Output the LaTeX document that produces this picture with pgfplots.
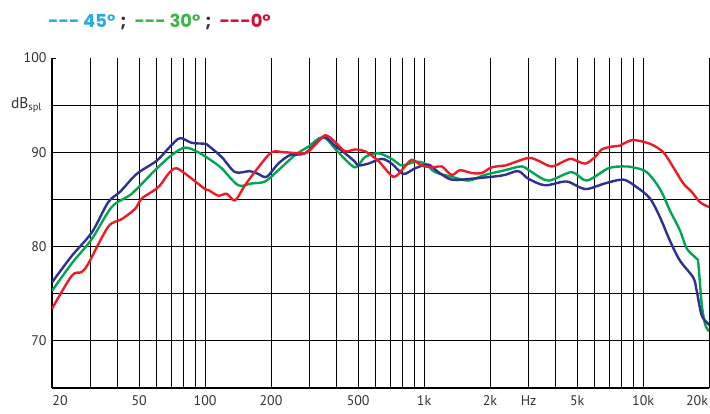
\documentclass[border=0pt]{standalone}
\usepackage{pgfplots}
\pgfplotsset{compat=1.18}
\usepackage{fontspec}
\setmainfont{PT Sans}
\newfontfamily\legfont{Poppins}
\definecolor{c45}{HTML}{2E3192}
\definecolor{c30}{HTML}{00A651}
\definecolor{c0}{HTML}{ED1C24}
\definecolor{l45}{HTML}{29ABE2}
\definecolor{l30}{HTML}{3DB549}
\definecolor{l0}{HTML}{D0103A}
\definecolor{semi}{HTML}{333333}
\begin{document}
\begin{tikzpicture}
\begin{axis}[
 name=main,
 scale only axis, width=657bp, height=330bp,
 xmode=log, xmin=20, xmax=20000, ymin=65, ymax=100,
 axis x line*=bottom, axis y line*=left,
 axis line style={line width=2bp, black, -},
 xtick={20,50,100,200,500,1000,2000,3000,5000,10000,20000},
 xticklabels={\hspace*{16bp}20,50,100,200,500,1k,2k,Hz,5k,10k,20k\hspace*{24bp}},
 minor xtick={30,40,60,70,80,90,300,400,600,700,800,900,4000,6000,7000,8000,9000},
 ytick={65,70,75,80,85,90,95},
 yticklabels={,70,,80,,90,{{\fontsize{15.5}{16}\selectfont dB}{\fontsize{10.5}{10}\selectfont\raisebox{-1.5bp}{spl}}\hspace*{5bp}}},
 extra y ticks={100}, extra y tick labels={100}, extra y tick style={grid=none},
 grid=both, grid style={line width=1bp, black},
 minor grid style={line width=1bp, black},
 tick align=inside, major tick length=4bp, minor tick length=0pt,
 tick style={line width=1bp, black},
 /pgf/number format/assume math mode=true,
 ticklabel style={font=\fontsize{14}{15}\selectfont, text=black!80},
 xticklabel style={yshift=-4bp},
 yticklabel style={xshift=-2bp},
]
\addplot[c30, line width=2.4bp, smooth, tension=0.5] table {
20 75.3
24.6 78.2
30.4 80.8
37.5 84.2
46.2 85.6
59.1 88.1
70.4 89.7
81.0 90.5
93.1 90.0
107.2 89.1
119.1 88.3
141.8 86.5
163.2 86.7
187.8 86.9
216.0 88.1
257.5 89.7
296.1 90.6
346.6 91.6
405.8 90.0
483.7 88.4
537.4 89.5
618.0 89.9
711.7 89.3
790.8 88.6
909.3 89.0
1009.8 88.8
1122 87.9
1337 87.4
1592 87.0
1898 87.6
2342 88.1
2791 88.5
3101 87.9
3692 87.0
4722 87.9
5531 87.0
6938 88.3
8124 88.5
9022 88.4
10390 87.9
11950 86.1
13272 83.8
14746 81.7
15820 79.8
17574 78.7
17872 78.2
18526 73.9
19180 71.8
19854 71.1
20000 71.0
};
\addplot[c45, line width=2.4bp, smooth, tension=0.5] table {
20 76.2
24.6 79.0
30.4 81.5
36.1 84.7
40.9 85.8
48.7 87.7
60.1 89.1
69.2 90.6
76.8 91.5
86.9 91.0
99.9 90.9
103.5 90.7
119.1 89.5
137.0 87.9
160.3 88.0
175.0 87.7
191.2 87.4
216.0 88.8
244.3 89.7
286.0 89.9
346.6 91.6
392.0 90.7
435 89.9
483.7 89.0
500.9 88.6
556.4 88.8
640.7 89.3
711.7 88.8
803.8 87.7
909.3 88.3
1045.5 88.7
1161 87.9
1337 87.1
1650 87.2
2036 87.4
2342 87.6
2693 88.0
2992 87.2
3566 86.5
4478 86.9
5433 86.1
6702 86.7
8124 87.1
9352 86.3
10756 85.1
11950 83.1
13272 80.6
14746 78.5
16958 76.7
17574 75.3
18526 72.7
19854 71.8
20000 71.7
};
\addplot[c0, line width=2.4bp, smooth, tension=0.5] table {
20 73.4
24.6 76.9
27.3 77.3
29.3 78.2
36.1 82.1
41.6 82.9
47.9 84.0
51.4 85.1
61.2 86.3
67.9 87.7
74.2 88.3
86.9 87.2
99.9 86.1
103.5 86.0
114.9 85.4
125.6 85.6
137.0 84.9
152.1 86.5
175.0 88.4
201.5 90.0
231.7 90.0
286.0 89.9
312.2 90.6
352.9 91.8
392.0 91.1
435.4 90.1
483.7 90.3
537.4 90.1
618.0 89.1
723.7 87.4
803.8 88.3
878.2 89.2
975.4 88.6
1102 88.4
1204 88.5
1337 87.6
1459 88.1
1650 87.8
1833 87.8
2036 88.4
2342 88.6
2425 88.7
2992 89.4
3323 89.1
3826 88.5
4400 89.1
4722 89.3
5433 88.8
6033 89.5
6473 90.3
7190 90.6
7846 90.7
8124 90.9
9022 91.3
10756 90.9
12370 90.0
13742 88.4
15264 86.7
16674 85.8
18196 84.7
20000 84.2
};
\end{axis}
\node[anchor=base west, font=\legfont\fontsize{18}{21}\selectfont\bfseries, inner sep=0pt]
  at ([xshift=-4bp,yshift=31bp]main.north west)
  {\textcolor{l45}{-{}-{}- 45°}\hspace{5bp}\textcolor{semi}{;}\hspace{8bp}\textcolor{l30}{-{}-{}- 30°}\hspace{5bp}\textcolor{semi}{;}\hspace{8bp}\textcolor{l0}{-{}-{}-0°}};
\pgfresetboundingbox
\path ([xshift=-52bp,yshift=-26bp]main.south west) rectangle ([xshift=1bp,yshift=58bp]main.north east);
\end{tikzpicture}
\end{document}
